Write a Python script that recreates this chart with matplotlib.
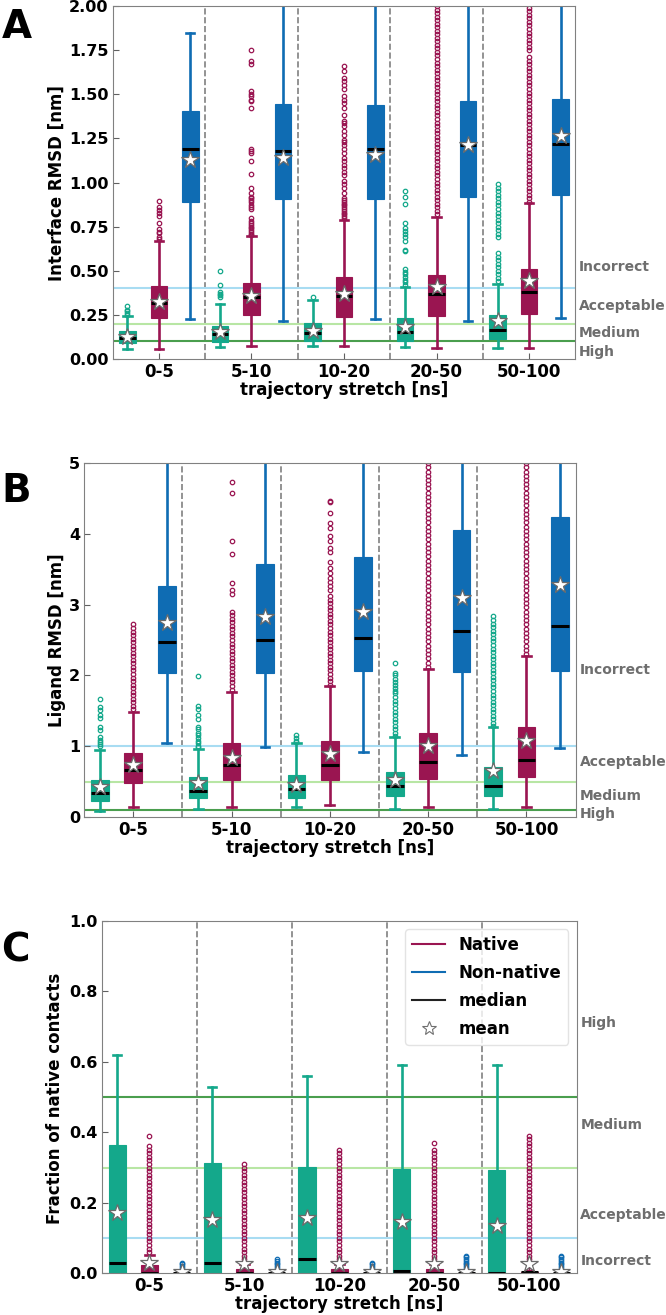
import matplotlib.pyplot as plt
import numpy as np
from matplotlib.lines import Line2D

categories = ['0-5', '5-10', '10-20', '20-50', '50-100']

# box stats per trajectory stretch: (whislo, q1, median, q3, whishi, mean)
# --- A: interface RMSD [nm]
irmsd_teal = [(0.059, 0.089, 0.121, 0.159, 0.242, 0.127),
              (0.070, 0.098, 0.140, 0.187, 0.312, 0.155),
              (0.072, 0.102, 0.149, 0.202, 0.336, 0.159),
              (0.070, 0.102, 0.151, 0.234, 0.410, 0.181),
              (0.064, 0.115, 0.166, 0.247, 0.425, 0.215)]
irmsd_native = [(0.059, 0.232, 0.319, 0.414, 0.669, 0.325),
                (0.072, 0.249, 0.353, 0.431, 0.697, 0.355),
                (0.072, 0.238, 0.357, 0.465, 0.788, 0.368),
                (0.064, 0.244, 0.368, 0.474, 0.805, 0.410),
                (0.064, 0.253, 0.380, 0.508, 0.882, 0.442)]
irmsd_nonnative = [(0.225, 0.888, 1.190, 1.405, 1.845, 1.128),
                   (0.217, 0.905, 1.180, 1.447, 2.600, 1.137),
                   (0.225, 0.905, 1.190, 1.441, 2.600, 1.156),
                   (0.215, 0.916, 1.210, 1.460, 2.600, 1.213),
                   (0.230, 0.929, 1.216, 1.475, 2.600, 1.265)]

irmsd_teal_fliers = [
    [0.25, 0.26, 0.27, 0.28, 0.30],
    [0.35, 0.36, 0.37, 0.38, 0.42, 0.50],
    [0.35],
    [0.42, 0.435, 0.45, 0.465, 0.48, 0.495, 0.51, 0.61, 0.62, 0.67, 0.69, 0.71,
     0.725, 0.74, 0.77, 0.88, 0.92, 0.95],
    [0.44, 0.46, 0.48, 0.50, 0.52, 0.54, 0.56, 0.58, 0.60, 0.69, 0.71, 0.73,
     0.75, 0.77, 0.79, 0.81, 0.83, 0.85, 0.87, 0.89, 0.91, 0.93, 0.95, 0.97, 0.99],
]
irmsd_native_fliers = [
    [0.678, 0.693, 0.712, 0.72, 0.735, 0.772, 0.81, 0.825, 0.845, 0.86, 0.897],
    [0.70, 0.71, 0.72, 0.73, 0.74, 0.75, 0.76, 0.77, 0.78, 0.80, 0.85, 0.86,
     0.87, 0.89, 0.90, 0.91, 0.92, 0.94, 0.97, 1.05, 1.12, 1.17, 1.18, 1.19,
     1.42, 1.46, 1.47, 1.49, 1.50, 1.52, 1.67, 1.69, 1.75],
    [0.80, 0.81, 0.82, 0.83, 0.84, 0.85, 0.86, 0.87, 0.88, 0.89, 0.90, 0.91,
     0.94, 0.97, 0.99, 1.01, 1.04, 1.06, 1.08, 1.10, 1.12, 1.14, 1.17, 1.19,
     1.21, 1.23, 1.24, 1.27, 1.29, 1.32, 1.34, 1.35, 1.385, 1.42, 1.45, 1.465,
     1.49, 1.53, 1.55, 1.575, 1.59, 1.63, 1.66],
    [0.82, 0.84, 0.86, 0.88, 0.90, 0.92, 0.94, 0.96, 0.98, 1.00, 1.02, 1.04,
     1.06, 1.08, 1.10, 1.12, 1.14, 1.16, 1.18, 1.20, 1.22, 1.24, 1.26, 1.28,
     1.30, 1.32, 1.34, 1.36, 1.38, 1.40, 1.42, 1.44, 1.46, 1.48, 1.50, 1.52,
     1.54, 1.56, 1.58, 1.60, 1.62, 1.64, 1.66, 1.68, 1.70, 1.72, 1.74, 1.76,
     1.78, 1.80, 1.82, 1.84, 1.86, 1.88, 1.90, 1.92, 1.94, 1.96, 1.98, 2.00],
    [0.89, 0.91, 0.93, 0.95, 0.97, 0.99, 1.01, 1.03, 1.05, 1.07, 1.09, 1.11,
     1.13, 1.15, 1.17, 1.19, 1.21, 1.23, 1.25, 1.27, 1.29, 1.31, 1.33, 1.35,
     1.37, 1.39, 1.41, 1.43, 1.45, 1.47, 1.49, 1.51, 1.53, 1.55, 1.57, 1.59,
     1.61, 1.63, 1.65, 1.67, 1.69, 1.71, 1.75, 1.77, 1.79, 1.81, 1.83, 1.85,
     1.87, 1.89, 1.91, 1.93, 1.95, 1.97, 1.99],
]
irmsd_nonnative_fliers = [[], [], [], [], []]

# --- B: ligand RMSD [nm]
lrmsd_teal = [(0.085, 0.222, 0.340, 0.528, 0.943, 0.420),
              (0.118, 0.264, 0.368, 0.571, 0.962, 0.480),
              (0.140, 0.274, 0.390, 0.600, 1.040, 0.450),
              (0.118, 0.297, 0.434, 0.641, 1.127, 0.528),
              (0.108, 0.297, 0.434, 0.703, 1.269, 0.646)]
lrmsd_native = [(0.140, 0.481, 0.665, 0.906, 1.486, 0.740),
                (0.140, 0.528, 0.740, 1.042, 1.770, 0.840),
                (0.170, 0.524, 0.740, 1.070, 1.850, 0.887),
                (0.140, 0.542, 0.778, 1.184, 2.094, 1.005),
                (0.146, 0.566, 0.807, 1.269, 2.278, 1.070)]
lrmsd_nonnative = [(1.047, 2.030, 2.467, 3.260, 6.5, 2.745),
                   (0.986, 2.040, 2.500, 3.570, 6.5, 2.826),
                   (0.915, 2.066, 2.524, 3.675, 6.5, 2.896),
                   (0.882, 2.052, 2.627, 4.047, 6.5, 3.094),
                   (0.976, 2.066, 2.703, 4.240, 6.5, 3.278)]

lrmsd_teal_fliers = [
    [1.00, 1.03, 1.06, 1.09, 1.13, 1.23, 1.27, 1.40, 1.44, 1.51, 1.55, 1.67],
    [0.99, 1.01, 1.05, 1.08, 1.12, 1.16, 1.19, 1.24, 1.27, 1.39, 1.44, 1.53,
     1.57, 1.99],
    [1.06, 1.08, 1.12, 1.16],
    [1.14, 1.19, 1.24, 1.29, 1.34, 1.39, 1.44, 1.49, 1.54, 1.59, 1.64, 1.69,
     1.75, 1.78, 1.82, 1.86, 1.90, 1.95, 2.00, 2.04, 2.18],
    [1.28, 1.33, 1.38, 1.43, 1.48, 1.53, 1.58, 1.63, 1.68, 1.73, 1.78, 1.83,
     1.88, 1.93, 1.98, 2.03, 2.08, 2.13, 2.18, 2.23, 2.28, 2.33, 2.38, 2.43,
     2.48, 2.53, 2.58, 2.63, 2.68, 2.73, 2.78, 2.84],
]
lrmsd_native_fliers = [
    [1.52, 1.57, 1.62, 1.67, 1.72, 1.77, 1.82, 1.87, 1.92, 1.97, 2.02, 2.07,
     2.12, 2.17, 2.22, 2.27, 2.32, 2.37, 2.42, 2.47, 2.52, 2.57, 2.62, 2.67, 2.72],
    [1.80, 1.85, 1.90, 1.95, 2.00, 2.05, 2.10, 2.15, 2.20, 2.25, 2.30, 2.35,
     2.40, 2.45, 2.50, 2.55, 2.60, 2.65, 2.70, 2.75, 2.80, 2.85, 2.90,
     3.15, 3.20, 3.30, 3.72, 3.90, 4.57, 4.73],
    [1.87, 1.92, 1.97, 2.02, 2.07, 2.12, 2.17, 2.22, 2.27, 2.32, 2.37, 2.42,
     2.47, 2.52, 2.57, 2.62, 2.67, 2.72, 2.77, 2.82, 2.87, 2.92, 2.97, 3.02,
     3.07, 3.12, 3.20, 3.26, 3.32, 3.38, 3.45, 3.52, 3.60, 3.75, 3.80, 3.90,
     3.97, 4.08, 4.15, 4.30, 4.45, 4.47],
    [2.12, 2.18, 2.24, 2.30, 2.36, 2.42, 2.48, 2.54, 2.60, 2.66, 2.72, 2.78,
     2.84, 2.90, 2.96, 3.02, 3.08, 3.14, 3.20, 3.26, 3.32, 3.38, 3.44, 3.50,
     3.56, 3.62, 3.68, 3.74, 3.80, 3.86, 3.92, 3.98, 4.04, 4.10, 4.16, 4.22,
     4.28, 4.34, 4.40, 4.46, 4.52, 4.58, 4.64, 4.70, 4.76, 4.82, 4.88, 4.94, 5.00],
    [2.30, 2.36, 2.42, 2.48, 2.54, 2.60, 2.66, 2.72, 2.78, 2.84, 2.90, 2.96,
     3.02, 3.08, 3.14, 3.20, 3.26, 3.32, 3.38, 3.44, 3.50, 3.56, 3.62, 3.68,
     3.74, 3.80, 3.86, 3.92, 3.98, 4.04, 4.10, 4.16, 4.22, 4.28, 4.34, 4.40,
     4.46, 4.52, 4.58, 4.64, 4.70, 4.76, 4.82, 4.88, 4.94, 5.00],
]
lrmsd_nonnative_fliers = [[], [], [], [], []]

# --- C: fraction of native contacts
fnat_teal = [(0.0, 0.0, 0.030, 0.365, 0.619, 0.172),
             (0.0, 0.0, 0.030, 0.313, 0.530, 0.152),
             (0.0, 0.0, 0.040, 0.301, 0.561, 0.156),
             (0.0, 0.0, 0.006, 0.296, 0.591, 0.145),
             (0.0, 0.0, 0.001, 0.293, 0.591, 0.134)]
fnat_native = [(0.0, 0.0, 0.0, 0.023, 0.051, 0.028),
               (0.0, 0.0, 0.0, 0.011, 0.027, 0.025),
               (0.0, 0.0, 0.0, 0.011, 0.027, 0.025),
               (0.0, 0.0, 0.0, 0.011, 0.027, 0.025),
               (0.0, 0.0, 0.002, 0.002, 0.005, 0.025)]
fnat_nonnative = [(0.0, 0.0, 0.0, 0.0, 0.0, 0.004),
                  (0.0, 0.0, 0.0, 0.0, 0.0, 0.004),
                  (0.0, 0.0, 0.0, 0.0, 0.0, 0.004),
                  (0.0, 0.0, 0.0, 0.0, 0.0, 0.004),
                  (0.0, 0.0, 0.0, 0.0, 0.0, 0.004)]

fnat_teal_fliers = [[], [], [], [], []]
fnat_native_fliers = [
    [0.06, 0.07, 0.08, 0.09, 0.10, 0.11, 0.12, 0.13, 0.14, 0.15, 0.16, 0.17,
     0.18, 0.19, 0.20, 0.21, 0.22, 0.23, 0.24, 0.25, 0.26, 0.27, 0.28, 0.29,
     0.30, 0.31, 0.32, 0.33, 0.34, 0.35, 0.36, 0.39],
    [0.03, 0.04, 0.05, 0.06, 0.07, 0.08, 0.09, 0.10, 0.11, 0.12, 0.13, 0.14,
     0.15, 0.16, 0.17, 0.18, 0.19, 0.20, 0.21, 0.22, 0.23, 0.24, 0.25, 0.26,
     0.27, 0.28, 0.29, 0.30, 0.31],
    [0.03, 0.04, 0.05, 0.06, 0.07, 0.08, 0.09, 0.10, 0.11, 0.12, 0.13, 0.14,
     0.15, 0.16, 0.17, 0.18, 0.19, 0.20, 0.21, 0.22, 0.23, 0.24, 0.25, 0.26,
     0.27, 0.28, 0.29, 0.30, 0.31, 0.32, 0.33, 0.34, 0.35],
    [0.03, 0.04, 0.05, 0.06, 0.07, 0.08, 0.09, 0.10, 0.11, 0.12, 0.13, 0.14,
     0.15, 0.16, 0.17, 0.18, 0.19, 0.20, 0.21, 0.22, 0.23, 0.24, 0.25, 0.26,
     0.27, 0.28, 0.29, 0.30, 0.31, 0.32, 0.33, 0.34, 0.35, 0.37],
    [0.01, 0.02, 0.03, 0.04, 0.05, 0.06, 0.07, 0.08, 0.09, 0.10, 0.11, 0.12,
     0.13, 0.14, 0.15, 0.16, 0.17, 0.18, 0.19, 0.20, 0.21, 0.22, 0.23, 0.24,
     0.25, 0.26, 0.27, 0.28, 0.29, 0.30, 0.31, 0.32, 0.33, 0.34, 0.35, 0.36,
     0.37, 0.38, 0.39],
]
fnat_nonnative_fliers = [
    [0.005, 0.01, 0.015, 0.02, 0.025, 0.03],
    [0.005, 0.01, 0.015, 0.02, 0.025, 0.03, 0.035, 0.04],
    [0.005, 0.01, 0.015, 0.02, 0.025, 0.03],
    [0.005, 0.01, 0.015, 0.02, 0.025, 0.03, 0.035, 0.04, 0.045, 0.05],
    [0.005, 0.01, 0.015, 0.02, 0.025, 0.03, 0.035, 0.04, 0.045, 0.05],
]

TEAL = '#14a88b'
CRIMSON = '#9a1551'
BLUE = '#0f6cb3'
LBLUE = '#a8dcf2'
LGREEN = '#b8e6a4'
GREEN = '#4a9e4e'
LABEL_GRAY = '#6e6e6e'


def draw_boxes(ax, stats, fliers, offset, color):
    bstats = [dict(whislo=s[0], q1=s[1], med=s[2], q3=s[3], whishi=s[4], mean=s[5],
                   fliers=f) for s, f in zip(stats, fliers)]
    pos = np.arange(len(categories)) + offset
    ax.bxp(bstats, positions=pos, widths=0.18, patch_artist=True, showmeans=True,
           manage_ticks=False,
           boxprops=dict(facecolor=color, edgecolor=color, linewidth=0.8),
           whiskerprops=dict(color=color, linewidth=1.9),
           capprops=dict(color=color, linewidth=1.9),
           medianprops=dict(color='black', linewidth=2.2),
           meanprops=dict(marker='*', markerfacecolor='white', markeredgecolor='#6a6a6a',
                          markersize=13, markeredgewidth=0.9),
           flierprops=dict(marker='o', markerfacecolor='none', markeredgecolor=color,
                           markersize=3.2, markeredgewidth=0.9))


def setup_panel(ax, ylim, yticks, yfmt, lines, labels):
    for y, c in lines:
        ax.axhline(y, color=c, lw=1.5, zorder=0.5)
    for i in range(len(categories) - 1):
        ax.axvline(i + 0.5, color='#808080', ls='--', lw=1.2, zorder=0.4)
    ax.set_xlim(-0.5, len(categories) - 0.5)
    ax.set_ylim(*ylim)
    ax.set_yticks(yticks)
    ax.set_yticklabels([yfmt.format(v) for v in yticks], fontsize=11.5, fontweight='bold')
    ax.set_xticks(np.arange(len(categories)))
    ax.set_xticklabels(categories, fontsize=12, fontweight='bold')
    ax.tick_params(direction='in', length=4, color='#606060', pad=3)
    for s in ax.spines.values():
        s.set_color('#808080')
    ax.set_xlabel('trajectory stretch [ns]', fontsize=12, fontweight='bold', labelpad=0)
    tr = ax.get_yaxis_transform()
    for y, txt in labels:
        ax.text(1.008, y, txt, transform=tr, color=LABEL_GRAY, fontsize=10,
                fontweight='bold', va='center', ha='left', clip_on=False)


fig = plt.figure(figsize=(6.66, 13.15), dpi=100)
axA = fig.add_axes([0.169, 0.727, 0.695, 0.2684])
axB = fig.add_axes([0.1263, 0.3787, 0.738, 0.2692])
axC = fig.add_axes([0.1532, 0.0318, 0.7125, 0.2678])

# A
setup_panel(axA, (0, 2.0), np.arange(0, 2.01, 0.25), '{:.2f}',
            [(0.4, LBLUE), (0.2, LGREEN), (0.1, GREEN)],
            [(0.52, 'Incorrect'), (0.30, 'Acceptable'), (0.145, 'Medium'), (0.04, 'High')])
draw_boxes(axA, irmsd_teal, irmsd_teal_fliers, -0.34, TEAL)
draw_boxes(axA, irmsd_native, irmsd_native_fliers, 0.0, CRIMSON)
draw_boxes(axA, irmsd_nonnative, irmsd_nonnative_fliers, 0.34, BLUE)

# B
setup_panel(axB, (0, 5), np.arange(0, 6, 1), '{:.0f}',
            [(1.0, LBLUE), (0.5, LGREEN), (0.1, GREEN)],
            [(2.07, 'Incorrect'), (0.77, 'Acceptable'), (0.29, 'Medium'), (0.04, 'High')])
draw_boxes(axB, lrmsd_teal, lrmsd_teal_fliers, -0.34, TEAL)
draw_boxes(axB, lrmsd_native, lrmsd_native_fliers, 0.0, CRIMSON)
draw_boxes(axB, lrmsd_nonnative, lrmsd_nonnative_fliers, 0.34, BLUE)

# C
setup_panel(axC, (0, 1.0), np.arange(0, 1.01, 0.2), '{:.1f}',
            [(0.5, GREEN), (0.3, LGREEN), (0.1, LBLUE)],
            [(0.71, 'High'), (0.42, 'Medium'), (0.165, 'Acceptable'), (0.035, 'Incorrect')])
draw_boxes(axC, fnat_teal, fnat_teal_fliers, -0.34, TEAL)
draw_boxes(axC, fnat_native, fnat_native_fliers, 0.0, CRIMSON)
draw_boxes(axC, fnat_nonnative, fnat_nonnative_fliers, 0.34, BLUE)

handles = [Line2D([], [], color=CRIMSON, lw=1.5),
           Line2D([], [], color=BLUE, lw=1.5),
           Line2D([], [], color='#222222', lw=1.5),
           Line2D([], [], ls='none', marker='*', markerfacecolor='white',
                  markeredgecolor='#707070', markersize=10, markeredgewidth=0.8)]
axC.legend(handles, ['Native', 'Non-native', 'median', 'mean'], loc='upper right',
           prop=dict(size=12, weight='bold'), borderaxespad=0.5, labelspacing=0.6,
           edgecolor='#dddddd')

# y labels and panel letters
fig.text(56.5 / 666, 1 - 183 / 1315, 'Interface RMSD [nm]', rotation=90, ha='center',
         va='center', fontsize=12, fontweight='bold')
fig.text(57 / 666, 1 - 640 / 1315, 'Ligand RMSD [nm]', rotation=90, ha='center',
         va='center', fontsize=12, fontweight='bold')
fig.text(55 / 666, 1 - 1098 / 1315, 'Fraction of native contacts', rotation=90, ha='center',
         va='center', fontsize=12, fontweight='bold')
for y, letter in [(8, 'A'), (472, 'B'), (932, 'C')]:
    fig.text(0.002, 1 - y / 1315, letter, fontsize=28, fontweight='bold', va='top', ha='left')

fig.savefig('out.png', dpi=100)
